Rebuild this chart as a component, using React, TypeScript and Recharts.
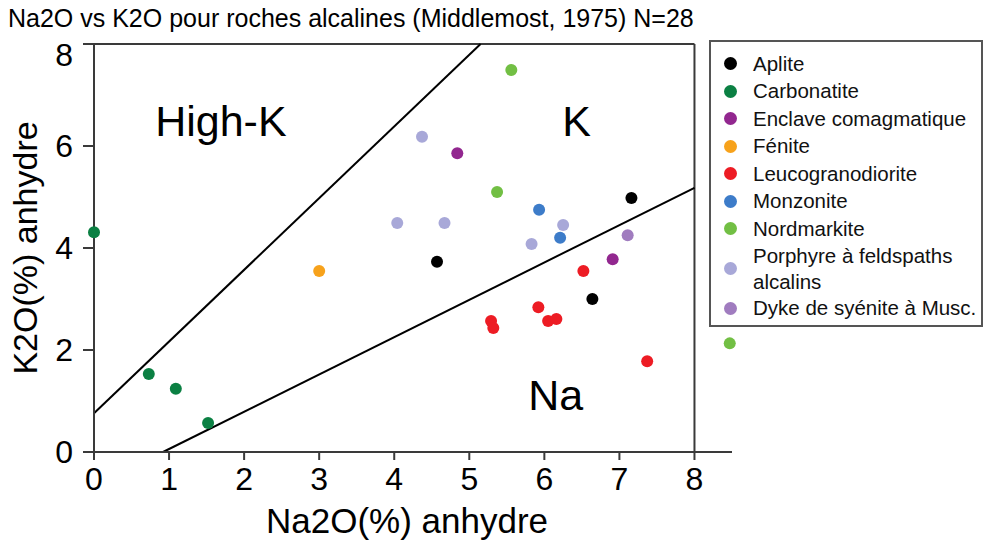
import React from "react"
import {
  ScatterChart,
  Scatter,
  XAxis,
  YAxis,
  ReferenceLine,
  ReferenceDot,
} from "recharts"

// Na2O (x) vs K2O (y), % anhydre
const aplite = [
  { x: 4.57, y: 3.73 },
  { x: 6.64, y: 3.0 },
  { x: 7.16, y: 4.98 },
]
const carbonatite = [
  { x: 0.0, y: 4.31 },
  { x: 0.73, y: 1.53 },
  { x: 1.09, y: 1.24 },
  { x: 1.52, y: 0.57 },
]
const enclave = [
  { x: 4.84, y: 5.86 },
  { x: 6.91, y: 3.78 },
]
const fenite = [{ x: 3.0, y: 3.55 }]
const leucogranodiorite = [
  { x: 6.52, y: 3.55 },
  { x: 5.92, y: 2.84 },
  { x: 5.29, y: 2.57 },
  { x: 5.32, y: 2.43 },
  { x: 6.05, y: 2.57 },
  { x: 6.16, y: 2.61 },
  { x: 7.37, y: 1.78 },
]
const monzonite = [
  { x: 5.93, y: 4.75 },
  { x: 6.21, y: 4.2 },
]
const nordmarkite = [
  { x: 5.56, y: 7.49 },
  { x: 5.37, y: 5.1 },
  { x: 8.47, y: 2.13 },
]
const porphyre = [
  { x: 4.37, y: 6.18 },
  { x: 4.04, y: 4.49 },
  { x: 4.67, y: 4.49 },
  { x: 6.25, y: 4.45 },
  { x: 5.83, y: 4.08 },
]
const dyke = [{ x: 7.11, y: 4.25 }]

const series = [
  { name: "Aplite", color: "#000000", data: aplite },
  { name: "Carbonatite", color: "#0b8043", data: carbonatite },
  { name: "Enclave comagmatique", color: "#92278f", data: enclave },
  { name: "Fénite", color: "#f7a21b", data: fenite },
  { name: "Leucogranodiorite", color: "#ed1c24", data: leucogranodiorite },
  { name: "Monzonite", color: "#3d7cc9", data: monzonite },
  { name: "Nordmarkite", color: "#72bf44", data: nordmarkite },
  { name: "Porphyre à feldspaths alcalins", color: "#a8a8d8", data: porphyre },
  { name: "Dyke de syénite à Musc.", color: "#a07cbf", data: dyke },
]

// field boundaries (Middlemost, 1975)
const highKLine = [
  { x: 0, y: 0.76 },
  { x: 5.15, y: 8 },
]
const naLine = [
  { x: 0, y: 0 },
  { x: 0.92, y: 0 },
  { x: 8, y: 5.18 },
]
const frame = [
  { x: 0, y: 8 },
  { x: 8, y: 8 },
  { x: 8, y: 0 },
]
const fields = [
  { label: "High-K", x: 1.69, y: 6.49 },
  { label: "K", x: 6.43, y: 6.49 },
  { label: "Na", x: 6.15, y: 1.12 },
]

const xTicks = [0, 1, 2, 3, 4, 5, 6, 7, 8]
const yTicks = [0, 2, 4, 6, 8]

const font = "'Liberation Sans', Arial, Helvetica, sans-serif"
const axisColor = "#3a3a3a"

function segments(points: { x: number; y: number }[]) {
  const out = []
  for (let i = 0; i < points.length - 1; i++) out.push([points[i], points[i + 1]])
  return out
}

function dot(color: string) {
  return (p: any) => <circle cx={p.cx} cy={p.cy} r={6} fill={color} />
}

// top label sits just under the frame, like the original
function YTick(props: any) {
  const { x, y, payload } = props
  const shift = payload.value === 8 ? 11 : 0
  return (
    <text x={x} y={y + shift} dy="0.355em" textAnchor="end" fontSize={32} fill="#000">
      {payload.value}
    </text>
  )
}

export default function App() {
  return (
    <div
      style={{
        position: "absolute",
        left: 0,
        top: 0,
        width: 985,
        height: 542,
        fontFamily: font,
        background: "#fff",
      }}
    >
      <div
        style={{
          position: "absolute",
          left: 8,
          top: 6,
          fontSize: 25,
          lineHeight: "25px",
          whiteSpace: "nowrap",
          color: "#000",
        }}
      >
        Na2O vs K2O pour roches alcalines (Middlemost, 1975) N=28
      </div>

      <ScatterChart
        width={985}
        height={542}
        margin={{ top: 44, right: 253, bottom: 0, left: 34 }}
      >
        <XAxis
          type="number"
          dataKey="x"
          domain={[0, 8.5]}
          ticks={xTicks}
          interval={0}
          height={90}
          tickSize={8}
          tickMargin={7}
          axisLine={{ stroke: axisColor, strokeWidth: 2 }}
          tickLine={{ stroke: axisColor, strokeWidth: 2 }}
          tick={{ fill: "#000", fontSize: 32 }}
          label={{
            content: (props: any) => {
              const vb = props.viewBox
              return (
                <text
                  x={vb.x + vb.width / 2 - 6}
                  y={vb.y + 81}
                  textAnchor="middle"
                  fontSize={35}
                  fill="#000"
                >
                  Na2O(%) anhydre
                </text>
              )
            },
          }}
        />
        <YAxis
          type="number"
          dataKey="y"
          domain={[0, 8]}
          ticks={yTicks}
          interval={0}
          width={60}
          tickSize={11}
          tickMargin={10}
          axisLine={{ stroke: axisColor, strokeWidth: 2 }}
          tickLine={{ stroke: axisColor, strokeWidth: 2 }}
          tick={<YTick />}
          label={{
            content: (props: any) => {
              const vb = props.viewBox
              const cx = vb.x - 9
              const cy = vb.y + vb.height / 2
              return (
                <text
                  x={cx}
                  y={cy}
                  dy="0.35em"
                  transform={`rotate(-90 ${cx} ${cy})`}
                  textAnchor="middle"
                  fontSize={34}
                  fill="#000"
                >
                  K2O(%) anhydre
                </text>
              )
            },
          }}
        />

        {segments(frame).map((s, i) => (
          <ReferenceLine
            key={"f" + i}
            segment={s}
            stroke={axisColor}
            strokeWidth={2}
          />
        ))}
        {segments(highKLine).map((s, i) => (
          <ReferenceLine key={"h" + i} segment={s} stroke="#000" strokeWidth={2} />
        ))}
        {segments(naLine).map((s, i) => (
          <ReferenceLine key={"n" + i} segment={s} stroke="#000" strokeWidth={2} />
        ))}

        {fields.map((f) => (
          <ReferenceDot
            key={f.label}
            x={f.x}
            y={f.y}
            r={1}
            fill="none"
            stroke="none"
            label={{ value: f.label, position: "center", fontSize: 43, fill: "#000" }}
          />
        ))}

        {series.map((s) => (
          <Scatter
            key={s.name}
            name={s.name}
            data={s.data}
            fill={s.color}
            shape={dot(s.color)}
            isAnimationActive={false}
          />
        ))}
      </ScatterChart>

      <div
        style={{
          position: "absolute",
          left: 709,
          top: 40,
          width: 274,
          height: 287,
          boxSizing: "border-box",
          border: "2px solid #555",
          paddingTop: 8,
          fontSize: 20.5,
          lineHeight: "26px",
          color: "#111",
        }}
      >
        {series.map((s) => (
          <div
            key={s.name}
            style={{ display: "flex", alignItems: "center", minHeight: 27.5 }}
          >
            <span
              style={{
                display: "inline-block",
                width: 13,
                height: 13,
                borderRadius: "50%",
                background: s.color,
                marginLeft: 13,
                marginRight: 16,
                flexShrink: 0,
              }}
            />
            <span style={{ width: 230 }}>{s.name}</span>
          </div>
        ))}
      </div>
    </div>
  )
}
